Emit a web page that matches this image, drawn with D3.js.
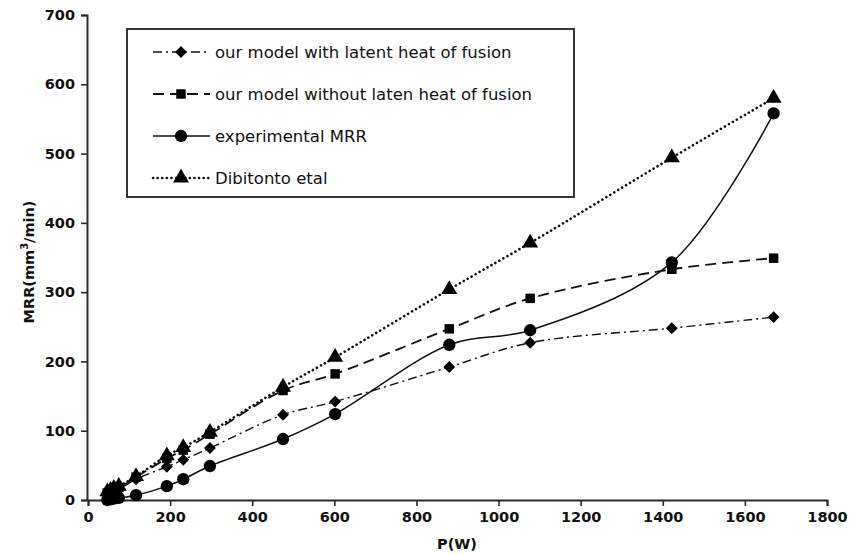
<!DOCTYPE html>
<html>
<head>
<meta charset="utf-8">
<script src="https://cdn.jsdelivr.net/npm/d3@7"></script>
<style>
  html, body { margin: 0; padding: 0; background: #fff; }
  svg { display: block; }
</style>
</head>
<body>
<svg id="chart" width="861" height="554"></svg>
<script>
// ---- data ----
const power = [47, 55, 63, 75, 117, 192, 232, 297, 475, 602, 880, 1077, 1422, 1670];
const withLatent = [8, 10, 12, 15, 30, 48, 58, 75, 123, 142, 192, 227, 248, 264];
const withoutLatent = [10, 12, 15, 18, 33, 60, 72, 95, 158, 182, 247, 291, 333, 349];
const experimental = [0, 1, 2, 3, 7, 20, 30, 49, 88, 124, 224, 245, 343, 558];
const dibitonto = [12, 14, 17, 20, 34, 64, 76, 98, 163, 206, 304, 371, 494, 580];
const seriesNames = [
  "our model with latent heat of fusion",
  "our model without laten heat of fusion",
  "experimental MRR",
  "Dibitonto etal"
];
const xTicks = [0, 200, 400, 600, 800, 1000, 1200, 1400, 1600, 1800];
const yTicks = [0, 100, 200, 300, 400, 500, 600, 700];

// ---- layout ----
const svg = d3.select("#chart");
const x = d3.scaleLinear().domain([0, 1800]).range([88, 827]);
const y = d3.scaleLinear().domain([0, 700]).range([500, 15]);
const axisColor = "#2a2a2a";
const tickFont = "DejaVu Sans, Verdana, sans-serif";

const series = [
  { name: seriesNames[0], values: withLatent, marker: "diamond", dash: "9,4,2,4", width: 1.4 },
  { name: seriesNames[1], values: withoutLatent, marker: "square", dash: "11,6", width: 1.8 },
  { name: seriesNames[2], values: experimental, marker: "circle", dash: null, width: 1.5 },
  { name: seriesNames[3], values: dibitonto, marker: "triangle", dash: "0.1,4.5", width: 2.6 }
];

const symbolType = {
  diamond: d3.symbolSquare,
  square: d3.symbolSquare,
  circle: d3.symbolCircle,
  triangle: d3.symbolTriangle
};
const symbolSize = { diamond: 70, square: 90, circle: 120, triangle: 110 };
const symbolRot = { diamond: 45, square: 0, circle: 0, triangle: 0 };

// ---- axes ----
const xAxis = d3.axisBottom(x).tickValues(xTicks).tickFormat(d3.format("d"))
  .tickSizeOuter(0).tickSize(6).tickPadding(6);
const yAxis = d3.axisLeft(y).tickValues(yTicks).tickFormat(d3.format("d"))
  .tickSizeOuter(0).tickSize(6).tickPadding(6);

const gx = svg.append("g").attr("transform", "translate(0,500)").call(xAxis);
const gy = svg.append("g").attr("transform", "translate(87,0)").call(yAxis);
[gx, gy].forEach(g => {
  g.select(".domain").attr("stroke", axisColor).attr("stroke-width", 2);
  g.selectAll(".tick line").attr("stroke", axisColor).attr("stroke-width", 1.6);
  g.selectAll(".tick text")
    .attr("fill", "#111")
    .attr("font-family", tickFont)
    .attr("font-weight", "bold")
    .attr("font-size", 14.5);
});

// axis titles
svg.append("text")
  .attr("x", 457).attr("y", 549)
  .attr("text-anchor", "middle")
  .attr("font-family", tickFont).attr("font-weight", "bold").attr("font-size", 14.5)
  .attr("fill", "#111")
  .text("P(W)");

const yt = svg.append("text")
  .attr("transform", "translate(34,262) rotate(-90)")
  .attr("text-anchor", "middle")
  .attr("font-family", tickFont).attr("font-weight", "bold").attr("font-size", 14.5)
  .attr("fill", "#111");
yt.append("tspan").text("MRR(mm");
yt.append("tspan").attr("font-size", 10).attr("dy", -6).text("3");
yt.append("tspan").attr("dy", 6).text("/min)");

// ---- lines ----
const line = d3.line()
  .x((d, i) => x(power[i]))
  .y(d => y(d))
  .curve(d3.curveCatmullRom.alpha(0.5));

const plot = svg.append("g");
series.forEach(s => {
  plot.append("path")
    .datum(s.values)
    .attr("d", line)
    .attr("fill", "none")
    .attr("stroke", "#111")
    .attr("stroke-width", s.width)
    .attr("stroke-linecap", s.marker === "triangle" ? "round" : "butt")
    .attr("stroke-dasharray", s.dash);
});
series.forEach(s => {
  plot.append("g").selectAll("path")
    .data(s.values)
    .join("path")
    .attr("transform", (d, i) => `translate(${x(power[i])},${y(d)}) rotate(${symbolRot[s.marker]})`)
    .attr("d", d3.symbol().type(symbolType[s.marker]).size(symbolSize[s.marker]))
    .attr("fill", "#000");
});

// ---- legend ----
const legend = svg.append("g");
legend.append("rect")
  .attr("x", 127).attr("y", 29).attr("width", 447).attr("height", 168)
  .attr("fill", "#fff").attr("stroke", "#222").attr("stroke-width", 1.8);

series.forEach((s, i) => {
  const ly = 52 + i * 42;
  legend.append("line")
    .attr("x1", 153).attr("x2", 210).attr("y1", ly).attr("y2", ly)
    .attr("stroke", "#111")
    .attr("stroke-width", s.width)
    .attr("stroke-linecap", s.marker === "triangle" ? "round" : "butt")
    .attr("stroke-dasharray", s.dash);
  legend.append("path")
    .attr("transform", `translate(181,${ly}) rotate(${symbolRot[s.marker]})`)
    .attr("d", d3.symbol().type(symbolType[s.marker]).size(symbolSize[s.marker]))
    .attr("fill", "#000");
  legend.append("text")
    .attr("x", 215).attr("y", ly + 6)
    .attr("font-family", tickFont).attr("font-size", 16.5)
    .attr("fill", "#111")
    .text(s.name);
});
</script>
</body>
</html>
